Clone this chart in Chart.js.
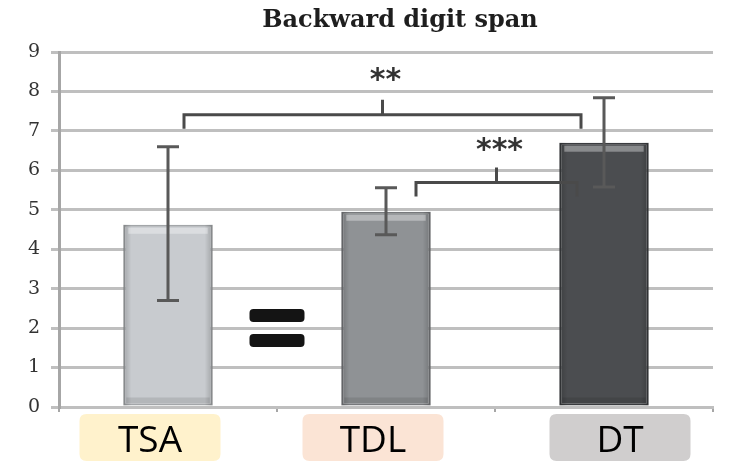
<!DOCTYPE html>
<html><head><meta charset="utf-8">
<script src="https://cdn.jsdelivr.net/npm/chart.js@4.4.1/dist/chart.umd.min.js"></script>
<style>html,body{margin:0;padding:0;background:#fff;overflow:hidden}#wrap{width:730px;height:469px;position:relative}</style>
</head><body><div id="wrap"><canvas id="c" width="730" height="469"></canvas></div>
<script>
// ---- data ----
const categories = ['TSA', 'TDL', 'DT'];
const meanValues = [4.62, 4.95, 6.70];
const errorLow = [2.70, 4.37, 5.58];
const errorHigh = [6.60, 5.56, 7.84];
const yTickValues = [0, 1, 2, 3, 4, 5, 6, 7, 8, 9];
const bracketFrom = [0, 1];
const bracketTo = [2, 2];
const bracketLevel = [7.41, 5.69];
const bracketLabel = ['**', '***'];
const equalsLevel = 2.0;
const titleText = 'Backward digit span';

// ---- styles / layout ----
const barFill = ['#C8CBCF', '#8F9295', '#4B4D50'];
const barEdge = ['#A3A6A9', '#77797C', '#3A3C3F'];
const labelBox = ['#FFF2CC', '#FBE4D5', '#D0CECE'];
const labelShift = [-18, -13, 16];
const bracketInsetL = [16, 30];
const bracketInsetR = [23, 27];
const bracketTextLift = [34, 31];

function rr(ctx, x, y, w, h, r) {
  ctx.beginPath();
  ctx.moveTo(x + r, y);
  ctx.lineTo(x + w - r, y); ctx.quadraticCurveTo(x + w, y, x + w, y + r);
  ctx.lineTo(x + w, y + h - r); ctx.quadraticCurveTo(x + w, y + h, x + w - r, y + h);
  ctx.lineTo(x + r, y + h); ctx.quadraticCurveTo(x, y + h, x, y + h - r);
  ctx.lineTo(x, y + r); ctx.quadraticCurveTo(x, y, x + r, y);
  ctx.closePath();
}

const decor = {
  id: 'decor',
  afterDatasetsDraw(chart) {
    const ctx = chart.ctx, xs = chart.scales.x, ys = chart.scales.y;
    const meta = chart.getDatasetMeta(0);
    meta.data.forEach((bar) => {
      const p = bar.getProps(['x', 'y', 'base', 'width'], true);
      const l = p.x - p.width / 2;
      ctx.save();
      const g = ctx.createLinearGradient(l, 0, l + p.width, 0);
      g.addColorStop(0, 'rgba(0,0,0,0.20)');
      g.addColorStop(0.09, 'rgba(0,0,0,0.0)');
      g.addColorStop(0.91, 'rgba(0,0,0,0.0)');
      g.addColorStop(1, 'rgba(0,0,0,0.20)');
      ctx.fillStyle = g;
      ctx.fillRect(l, p.y, p.width, p.base - p.y);
      ctx.fillStyle = 'rgba(255,255,255,0.35)';
      ctx.fillRect(l + 5, p.y + 3, p.width - 10, 6);
      ctx.fillStyle = 'rgba(0,0,0,0.10)';
      ctx.fillRect(l + 3, p.base - 8, p.width - 6, 6);
      ctx.restore();
    });
    // error bars
    ctx.save();
    ctx.strokeStyle = '#595959';
    ctx.lineWidth = 3;
    categories.forEach((c, i) => {
      const x = xs.getPixelForValue(i);
      const yh = ys.getPixelForValue(errorHigh[i]);
      const yl = ys.getPixelForValue(errorLow[i]);
      ctx.beginPath();
      ctx.moveTo(x, yh); ctx.lineTo(x, yl);
      ctx.moveTo(x - 11, yh); ctx.lineTo(x + 11, yh);
      ctx.moveTo(x - 11, yl); ctx.lineTo(x + 11, yl);
      ctx.stroke();
    });
    // brackets
    ctx.strokeStyle = '#4A4A4A';
    ctx.lineWidth = 3;
    ctx.fillStyle = '#333';
    ctx.font = 'bold 30px "DejaVu Sans"';
    ctx.textAlign = 'center';
    ctx.textBaseline = 'middle';
    bracketFrom.forEach((f, k) => {
      const x1 = xs.getPixelForValue(f) + bracketInsetL[k];
      const x2 = xs.getPixelForValue(bracketTo[k]) - bracketInsetR[k];
      const yb = ys.getPixelForValue(bracketLevel[k]);
      const xm = (x1 + x2) / 2;
      ctx.beginPath();
      ctx.moveTo(x1, yb + 14); ctx.lineTo(x1, yb); ctx.lineTo(x2, yb); ctx.lineTo(x2, yb + 14);
      ctx.moveTo(xm, yb); ctx.lineTo(xm, yb - 15);
      ctx.stroke();
      ctx.fillText(bracketLabel[k], xm + 3, yb - bracketTextLift[k]);
    });
    // equals sign
    const ex = (xs.getPixelForValue(0) + xs.getPixelForValue(1)) / 2;
    const ey = ys.getPixelForValue(equalsLevel);
    ctx.fillStyle = '#141414';
    rr(ctx, ex - 27.5, ey - 19, 55, 13, 4); ctx.fill();
    rr(ctx, ex - 27.5, ey + 6, 55, 13, 4); ctx.fill();
    ctx.restore();
  },
  afterDraw(chart) {
    const ctx = chart.ctx, xs = chart.scales.x;
    ctx.save();
    ctx.fillStyle = '#1E1E1E';
    ctx.font = 'bold 24px "DejaVu Serif"';
    ctx.textAlign = 'center';
    ctx.textBaseline = 'middle';
    ctx.fillText(titleText, 400, 21);
    categories.forEach((c, i) => {
      const cx = xs.getPixelForValue(i) + labelShift[i];
      ctx.fillStyle = labelBox[i];
      rr(ctx, cx - 70.5, 414, 141, 47, 7); ctx.fill();
      ctx.fillStyle = '#000';
      ctx.font = '37px "Open Sans"';
      ctx.textBaseline = 'alphabetic';
      ctx.fillText(c, cx, 452);
    });
    ctx.restore();
  }
};

new Chart(document.getElementById('c'), {
  type: 'bar',
  data: {
    labels: categories,
    datasets: [{
      data: meanValues,
      backgroundColor: barFill,
      borderColor: barEdge,
      borderWidth: 2,
      borderSkipped: false,
      barPercentage: 0.41,
      categoryPercentage: 1.0
    }]
  },
  options: {
    responsive: false,
    animation: false,
    layout: { padding: { left: 0, top: 52, right: 17, bottom: 57 } },
    plugins: { legend: { display: false }, tooltip: { enabled: false }, title: { display: false } },
    scales: {
      x: {
        offset: true,
        grid: { display: true, drawOnChartArea: false, offset: true, tickLength: 5, color: '#A6A6A6', lineWidth: 2 },
        border: { display: true, color: '#BFBFBF', width: 3 },
        ticks: { display: false },
        afterFit(s) { s.height = 5; }
      },
      y: {
        min: 0, max: 9,
        afterBuildTicks(s) { s.ticks = yTickValues.map(v => ({ value: v })); },
        grid: { color: '#BFBFBF', lineWidth: 3, tickLength: 8 },
        border: { display: true, color: '#A6A6A6', width: 3 },
        ticks: { padding: 11, color: '#333333', font: { family: '"DejaVu Serif"', size: 19 } },
        afterFit(s) { s.width = 59; }
      }
    }
  },
  plugins: [decor]
});
</script></body></html>
